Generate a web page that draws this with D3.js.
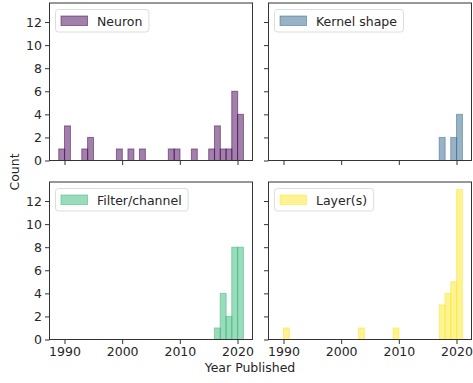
<!DOCTYPE html>
<html>
<head>
<meta charset="utf-8">
<script src="https://cdn.jsdelivr.net/npm/d3@7"></script>
<style>
  body { margin: 0; background: #fff; }
  svg { display: block; font-family: "DejaVu Sans", sans-serif; }
</style>
</head>
<body>
<div id="chart"></div>
<script>
// publication years (bin start) and counts per category
var neuronYears = [1989, 1990, 1993, 1994, 1999, 2001, 2003, 2008, 2009, 2012, 2015, 2016, 2017, 2018, 2019, 2020];
var neuronCounts = [1, 3, 1, 2, 1, 1, 1, 1, 1, 1, 1, 3, 1, 1, 6, 4];
var kernelYears = [2017, 2019, 2020];
var kernelCounts = [2, 2, 4];
var filterYears = [2016, 2017, 2018, 2019, 2020];
var filterCounts = [1, 4, 2, 8, 8];
var layerYears = [1990, 2003, 2009, 2017, 2018, 2019, 2020];
var layerCounts = [1, 1, 1, 3, 4, 5, 13];

var seriesNames = ["Neuron", "Kernel shape", "Filter/channel", "Layer(s)"];
var seriesColors = ["#440154", "#31688e", "#35b779", "#fde725"];
var xTicks = [1990, 2000, 2010, 2020];
var yTicks = [0, 2, 4, 6, 8, 10, 12];

var panels = [
  {name: seriesNames[0], color: seriesColors[0], years: neuronYears, counts: neuronCounts, col: 0, row: 0},
  {name: seriesNames[1], color: seriesColors[1], years: kernelYears, counts: kernelCounts, col: 1, row: 0},
  {name: seriesNames[2], color: seriesColors[2], years: filterYears, counts: filterCounts, col: 0, row: 1},
  {name: seriesNames[3], color: seriesColors[3], years: layerYears, counts: layerCounts, col: 1, row: 1}
];

var width = 473, height = 383;
var colX = [49.5, 268.5], panelW = 203;
var rowY = [3, 182], panelH = 157.5;
var fontSize = 12.5;

var svg = d3.select("#chart").append("svg").attr("width", width).attr("height", height);

// shared scales (matplotlib-like 5% margins)
var xMin = 1989, xMax = 2021, xPad = (xMax - xMin) * 0.05;
var yMax = d3.max([].concat(neuronCounts, kernelCounts, filterCounts, layerCounts)) * 1.05;

panels.forEach(function(p) {
  var x = d3.scaleLinear().domain([xMin - xPad, xMax + xPad]).range([0, panelW]);
  var y = d3.scaleLinear().domain([0, yMax]).range([panelH, 0]);
  var g = svg.append("g").attr("transform", "translate(" + colX[p.col] + "," + rowY[p.row] + ")");

  var data = p.years.map(function(yr, i) { return {year: yr, count: p.counts[i]}; });
  g.selectAll("rect.bar").data(data).enter().append("rect")
    .attr("class", "bar")
    .attr("x", function(d) { return x(d.year); })
    .attr("width", function(d) { return x(d.year + 1.03) - x(d.year); })
    .attr("y", function(d) { return y(d.count); })
    .attr("height", function(d) { return y(0) - y(d.count); })
    .attr("fill", p.color).attr("fill-opacity", 0.5)
    .attr("stroke", p.color).attr("stroke-opacity", 0.5).attr("stroke-width", 1);

  var xAxis = d3.axisBottom(x).tickValues(xTicks).tickSize(4.5).tickPadding(3)
    .tickFormat(p.row === 1 ? d3.format("d") : function() { return ""; });
  var yAxis = d3.axisLeft(y).tickValues(yTicks).tickSize(4.5).tickPadding(3)
    .tickFormat(p.col === 0 ? d3.format("d") : function() { return ""; });

  var gx = g.append("g").attr("transform", "translate(0," + panelH + ")").call(xAxis);
  var gy = g.append("g").call(yAxis);
  [gx, gy].forEach(function(a) {
    a.select(".domain").remove();
    a.selectAll("line").attr("stroke", "#333");
    a.selectAll("text").attr("fill", "#262626").style("font-size", fontSize + "px")
      .style("font-family", "DejaVu Sans, sans-serif");
  });

  g.append("rect").attr("width", panelW).attr("height", panelH)
    .attr("fill", "none").attr("stroke", "#333").attr("stroke-width", 1);

  // legend
  var lg = g.append("g").attr("transform", "translate(6,6.5)");
  var box = lg.append("rect").attr("height", 22.5).attr("rx", 3)
    .attr("fill", "#fff").attr("fill-opacity", 0.8).attr("stroke", "#ddd");
  lg.append("rect").attr("x", 5.5).attr("y", 6.5).attr("width", 26.5).attr("height", 9.5)
    .attr("fill", p.color).attr("fill-opacity", 0.5)
    .attr("stroke", p.color).attr("stroke-opacity", 0.5);
  var t = lg.append("text").attr("x", 41.5).attr("y", 16).text(p.name)
    .attr("fill", "#262626").style("font-size", fontSize + "px");
  box.attr("width", 41.5 + t.node().getComputedTextLength() + 6.5);
});

svg.append("text").attr("x", 250).attr("y", 372)
  .attr("text-anchor", "middle").style("font-size", fontSize + "px").attr("fill", "#262626")
  .text("Year Published");
svg.append("text").attr("transform", "translate(19,172) rotate(-90)")
  .attr("text-anchor", "middle").style("font-size", fontSize + "px").attr("fill", "#262626")
  .text("Count");
</script>
</body>
</html>
